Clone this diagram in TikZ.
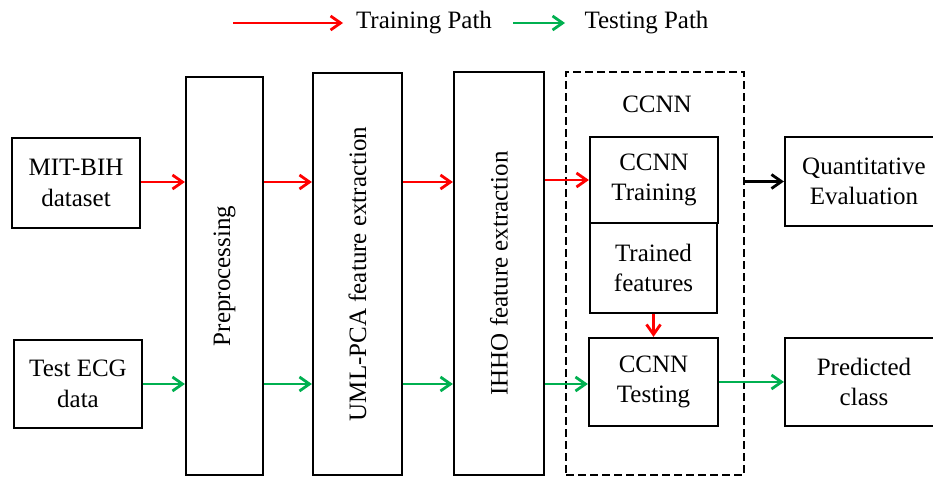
\documentclass[tikz,border=0pt]{standalone}
\usepackage{fontspec}
\setmainfont{Liberation Serif}
\usetikzlibrary{arrows.meta,positioning}
\definecolor{trainred}{RGB}{255,0,0}
\definecolor{testgreen}{RGB}{0,176,80}
\tikzset{
  box/.style={draw, line width=2.2pt, align=center, inner sep=2pt},
  trainarr/.style={-{Straight Barb[length=10pt,width=14pt]}, trainred, line width=2.8pt},
  testarr/.style={-{Straight Barb[length=10pt,width=14pt]}, testgreen, line width=2.8pt},
  evalarr/.style={-{Straight Barb[length=10pt,width=14pt]}, black, line width=2.8pt}
}

\begin{document}
\begin{tikzpicture}[x=1pt,y=-1pt,font=\fontsize{25}{30.5}\selectfont]
\useasboundingbox (0,0) rectangle (933,477);
\clip (0,0) rectangle (933,477);

\coordinate (rrow) at (0,182);
\coordinate (grow) at (0,384);

\coordinate (leg1a) at (233,23);
\coordinate (leg1b) at (343,23);
\coordinate (leg2a) at (513,23);
\coordinate (leg2b) at (565,23);
\draw[trainarr] (leg1a) -- (leg1b);
\node (legtrain) at (424,23) {Training Path};
\draw[testarr] (leg2a) -- (leg2b);
\node (legtest) at (646.5,23) {Testing Path};

\node[box, minimum width=128, minimum height=90] (mit) at (76,183) {MIT-BIH\\dataset};
\node[box, minimum width=128, minimum height=88] (test) at (78,384) {Test ECG\\data};

\node[box, minimum width=77, minimum height=398] (prep) at (224.5,276) {};
\node[rotate=90] (preptxt) at (prep) {Preprocessing};
\node[box, minimum width=89, minimum height=402] (uml) at (357.5,274) {};
\node[rotate=90] (umltxt) at (uml) {UML-PCA feature extraction};
\node[box, minimum width=90, minimum height=403] (ihho) at (499,273.5) {};
\node[rotate=90] (ihhotxt) at (ihho) {IHHO feature extraction};

\node[draw, line width=2.2pt, dash pattern=on 8pt off 4pt, minimum width=178, minimum height=403] (ccnnbox) at (655,273.5) {};
\node (ccnnlbl) at (657,104) {CCNN};
\node[box, minimum width=128, minimum height=86] (train) at (654,180) {CCNN\\Training};
\node[box, minimum width=127, minimum height=90] (feat) at (653.5,268) {Trained\\features};
\node[box, minimum width=129, minimum height=88] (testn) at (653.5,382) {CCNN\\Testing};

\node[box, minimum width=158, minimum height=89] (quant) at (864,181.5) {Quantitative\\Evaluation};
\node[box, minimum width=158, minimum height=88] (pred) at (864,382) {Predicted\\class};

\draw[trainarr] (mit.east |- rrow) -- (prep.west |- rrow);
\draw[trainarr] (prep.east |- rrow) -- (uml.west |- rrow);
\draw[trainarr] (uml.east |- rrow) -- (ihho.west |- rrow);
\draw[trainarr] (ihho.east |- train.west) -- (train.west);
\draw[trainarr] (feat.south) -- (feat.south |- testn.north);

\draw[testarr] (test.east |- grow) -- (prep.west |- grow);
\draw[testarr] (prep.east |- grow) -- (uml.west |- grow);
\draw[testarr] (uml.east |- grow) -- (ihho.west |- grow);
\draw[testarr] (ihho.east |- grow) -- (testn.west |- grow);
\draw[testarr] (testn.east) -- (pred.west |- testn.east);

\draw[evalarr] (ccnnbox.east |- quant.west) -- (quant.west);

\end{tikzpicture}
\end{document}
